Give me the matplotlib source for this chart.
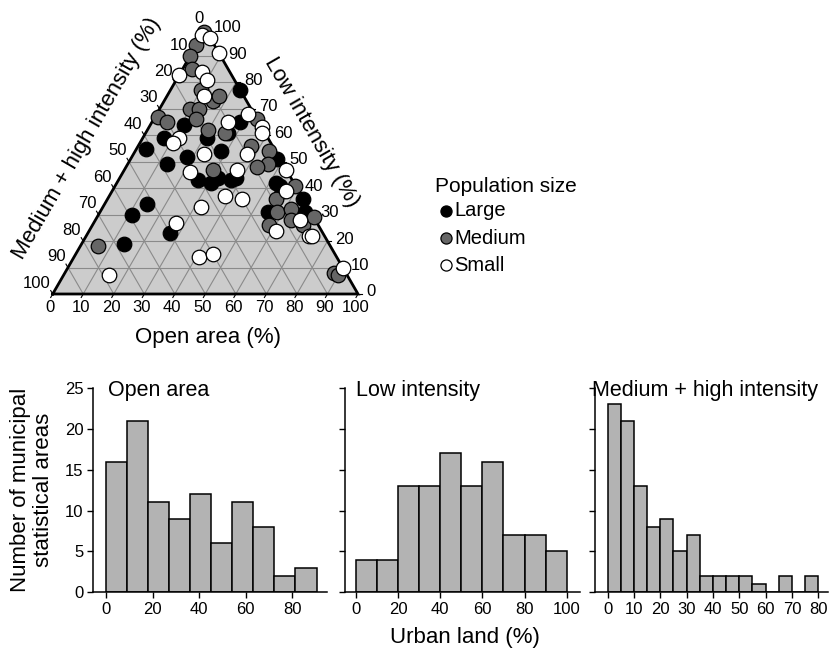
"""Ternary plot of urban land composition plus histograms of each land class."""

import numpy as np
import matplotlib

matplotlib.use("Agg")
import matplotlib.pyplot as plt
from matplotlib.lines import Line2D

plt.rcParams["font.family"] = ["Liberation Sans", "DejaVu Sans"]

# ternary points: open area / low intensity / medium + high intensity (%)
large_open = [23, 11, 29, 7, 21, 3, 18, 28, 13, 26, 31, 32, 37, 38, 48, 52, 54, 56, 64, 14, 11, 55, 67, 27, 14, 27]
large_low = [77, 64, 65, 59, 59, 55, 52, 54, 49, 43, 42, 44, 43, 44, 51, 42, 41, 39, 36, 34, 30, 31, 31, 23, 19, 61]
large_mh = [0, 25, 6, 34, 20, 42, 30, 18, 38, 31, 27, 24, 20, 18, 1, 6, 5, 5, 0, 52, 59, 14, 2, 50, 67, 12]

medium_open = [0, 0, 0, 3, 10, 16, 17, 10, 13, 14, 1, 5, 20, 26, 34, 37, 44, 46, 43, 29,
               59, 55, 58, 62, 64, 69, 71, 58, 6, 88, 90]
medium_low = [99, 94, 90, 85, 77, 73, 75, 70, 70, 66, 67, 65, 62, 61, 66, 56, 54, 49, 48, 47,
              41, 36, 31, 32, 28, 26, 29, 26, 18, 8, 7]
medium_mh = [1, 6, 10, 12, 13, 11, 8, 20, 17, 20, 32, 30, 18, 13, 0, 7, 2, 5, 9, 24,
             0, 9, 11, 6, 8, 5, 0, 16, 76, 4, 3]

small_open = [0, 3, 9, 0, 7, 10, 12, 30, 25, 37, 38, 12, 11, 23, 37, 22, 37, 53, 38, 44,
              32, 57, 27, 67, 61, 73, 74, 41, 45, 90, 15]
small_low = [98, 97, 91, 83, 84, 81, 75, 68, 65, 63, 61, 59, 57, 53, 53, 46, 47, 47, 37, 36,
             33, 39, 27, 28, 24, 22, 22, 14, 15, 10, 7]
small_mh = [2, 0, 0, 17, 9, 9, 13, 2, 10, 0, 1, 29, 32, 24, 10, 32, 16, 0, 25, 20,
            35, 4, 46, 5, 15, 5, 4, 45, 40, 0, 78]

# histograms
open_edges = [0, 9.05, 18.1, 27.15, 36.2, 45.25, 54.3, 63.35, 72.4, 81.45, 90.5]
open_counts = [16, 21, 11, 9, 12, 6, 11, 8, 2, 3]
low_edges = [0, 10, 20, 30, 40, 50, 60, 70, 80, 90, 100]
low_counts = [4, 4, 13, 13, 17, 13, 16, 7, 7, 5]
mh_edges = [0, 5, 10, 15, 20, 25, 30, 35, 40, 45, 50, 55, 60, 65, 70, 75, 80]
mh_counts = [23, 21, 13, 8, 9, 5, 7, 2, 2, 2, 2, 1, 0, 2, 0, 2]

R3 = np.sqrt(3) / 2
W, H = 840, 651
SIDE = 305.3  # pixel length of triangle side


def tern(o, l):
    o = np.asarray(o, float)
    l = np.asarray(l, float)
    return o / 100 + l / 200, l / 100 * R3


fig = plt.figure(figsize=(W / 100, H / 100), dpi=100)

# ---- ternary panel ----
u0, u1, v0, v1 = -0.15, 1.15, -0.15, 0.93
left_px, base_px = 52.7, 294.0
ax = fig.add_axes([(left_px + u0 * SIDE) / W, (H - (base_px - v0 * SIDE)) / H,
                   (u1 - u0) * SIDE / W, (v1 - v0) * SIDE / H])
ax.set_xlim(u0, u1)
ax.set_ylim(v0, v1)
ax.axis("off")

ax.fill([0, 1, 0.5], [0, 0, R3], color="#cccccc", zorder=0)
for k in range(10, 100, 10):
    # low intensity = const (horizontal)
    x, y = tern([0, 100 - k], [k, k])
    ax.plot(x, y, color="#8a8a8a", lw=0.8, zorder=1)
    # open area = const
    x, y = tern([k, k], [0, 100 - k])
    ax.plot(x, y, color="#8a8a8a", lw=0.8, zorder=1)
    # medium + high = const
    x, y = tern([0, 100 - k], [100 - k, 0])
    ax.plot(x, y, color="#8a8a8a", lw=0.8, zorder=1)
ax.plot([0, 1, 0.5, 0], [0, 0, R3, 0], color="black", lw=2, zorder=2, solid_joinstyle="miter")

tl = 4 / SIDE
for k in range(0, 101, 10):
    # bottom: open area
    x, y = tern(k, 0)
    ax.plot([x, x - 0.5 * tl], [y, y - R3 * tl], color="black", lw=0.8)
    ax.text(x - 2.5 / SIDE, y - 13 / SIDE, str(k), ha="center", va="center", fontsize=12)
    # left: medium + high
    x, y = tern(0, 100 - k)
    ax.plot([x, x - 0.5 * tl], [y, y + R3 * tl], color="black", lw=0.8)
    ax.text(x - 2 / SIDE, y + 11 / SIDE, str(k), ha="right", va="center", fontsize=12)
    # right: low intensity
    x, y = tern(100 - k, k)
    ax.plot([x, x + tl], [y, y], color="black", lw=0.8)
    ax.text(x + 8 / SIDE, y + 2 / SIDE, str(k), ha="left", va="center", fontsize=12)

for o, l, c in [(large_open, large_low, "black"),
                (medium_open, medium_low, "#666666"),
                (small_open, small_low, "white")]:
    x, y = tern(o, l)
    ax.scatter(x, y, s=110, c=c, edgecolors="black", linewidths=0.9, zorder=3, clip_on=False)

ax.text((207.5 - left_px) / SIDE, (base_px - 338) / SIDE, "Open area (%)",
        ha="center", va="center", fontsize=16)
ax.text((86.5 - left_px) / SIDE, (base_px - 138.5) / SIDE, "Medium + high intensity (%)",
        ha="center", va="center", fontsize=16, rotation=60, rotation_mode="anchor")
ax.text((311 - left_px) / SIDE, (base_px - 132) / SIDE, "Low intensity (%)",
        ha="center", va="center", fontsize=16, rotation=-60, rotation_mode="anchor")

# legend
fig.text(435 / W, 1 - 187 / H, "Population size", ha="left", va="center", fontsize=15)
for lab, col, ypx in [("Large", "black", 211), ("Medium", "#666666", 238), ("Small", "white", 265)]:
    fig.add_artist(Line2D([446 / W], [1 - ypx / H], transform=fig.transFigure, marker="o",
                          markersize=8, markerfacecolor=col, markeredgecolor="black",
                          markeredgewidth=0.9, linestyle="none"))
    fig.text(454 / W, 1 - ypx / H, lab, ha="left", va="center", fontsize=14.5)

# ---- histograms ----
bot = (H - 592.3) / H
hgt = 204.3 / H
panels = [
    ("Open area", open_edges, open_counts, (-5.5, 95), 93.3, 2.325, [0, 20, 40, 60, 80], 0.063),
    ("Low intensity", low_edges, low_counts, (-5.2, 106.3), 345, 2.107, [0, 20, 40, 60, 80, 100], 0.047),
    ("Medium + high intensity", mh_edges, mh_counts, (-4.8, 83.7), 595, 2.633,
     [0, 10, 20, 30, 40, 50, 60, 70, 80], -0.013),
]
for i, (title, edges, counts, xl, lpx, ppu, xt, tx) in enumerate(panels):
    hax = fig.add_axes([lpx / W, bot, (xl[1] - xl[0]) * ppu / W, hgt])
    edges = np.asarray(edges)
    hax.bar(edges[:-1], counts, width=np.diff(edges), align="edge",
            color="#b3b3b3", edgecolor="black", linewidth=1.1)
    hax.set_xlim(*xl)
    hax.set_ylim(0, 25)
    hax.set_xticks(xt)
    hax.set_yticks([0, 5, 10, 15, 20, 25])
    for s in ["top", "right"]:
        hax.spines[s].set_visible(False)
    for s in ["left", "bottom"]:
        hax.spines[s].set_linewidth(1.1)
    hax.tick_params(direction="out", length=4, width=1.0, labelsize=12, pad=3)
    if i > 0:
        hax.set_yticklabels([])
    hax.text(tx, 0.962, title, transform=hax.transAxes, ha="left", va="baseline", fontsize=15.5)

fig.text(32 / W, 1 - 490 / H, "Number of municipal\nstatistical areas", rotation=90,
         ha="center", va="center", fontsize=16, linespacing=1.1)
fig.text(465 / W, 1 - 637 / H, "Urban land (%)", ha="center", va="center", fontsize=16)

fig.savefig("out.png", dpi=100)
